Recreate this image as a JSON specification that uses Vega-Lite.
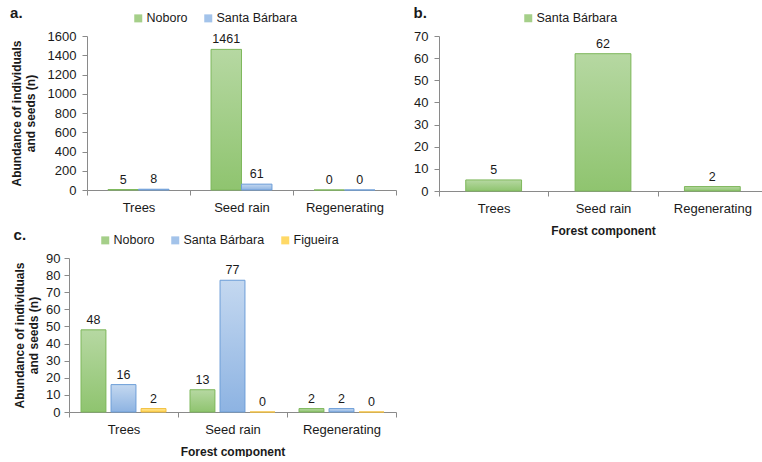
{
  "$schema": "https://vega.github.io/schema/vega-lite/v6.json",
  "padding": {"left": 10, "top": 6, "right": 0, "bottom": 0},
  "config": {
    "font": "Liberation Sans",
    "view": {"stroke": null},
    "axis": {"domainColor": "#8a8a8a", "tickColor": "#8a8a8a", "labelColor": "#1a1a1a", "labelFontSize": 13, "titleFontSize": 12, "titleFontWeight": "bold", "titleColor": "#1a1a1a", "titleLineHeight": 14, "grid": false, "tickSize": 5},
    "axisX": {"labelAngle": 0, "labelPadding": 6, "titlePadding": 10, "tickBand": "extent"},
    "axisY": {"labelPadding": 6, "titlePadding": 10, "format": "d"},
    "legend": {"orient": "none", "direction": "horizontal", "title": null, "labelFontSize": 12.5, "labelColor": "#1a1a1a", "symbolType": "square", "symbolSize": 64, "symbolStrokeWidth": 0, "columnPadding": 14, "labelOffset": 2},
    "title": {"fontSize": 15, "fontWeight": "bold", "anchor": "start", "frame": "bounds", "offset": 0, "dy": 13, "color": "#1a1a1a"},
    "text": {"fontSize": 12.5, "color": "#1a1a1a"}
  },
  "vconcat": [
    {
      "hconcat": [
        {
          "title": "a.",
          "width": 327,
          "height": 154,
          "data": {"values": [
            {"component": "Trees", "site": "Noboro", "n": 5},
            {"component": "Trees", "site": "Santa Bárbara", "n": 8},
            {"component": "Seed rain", "site": "Noboro", "n": 1461},
            {"component": "Seed rain", "site": "Santa Bárbara", "n": 61},
            {"component": "Regenerating", "site": "Noboro", "n": 0},
            {"component": "Regenerating", "site": "Santa Bárbara", "n": 0}
          ]},
          "encoding": {
            "x": {"field": "component", "type": "nominal", "sort": ["Trees", "Seed rain", "Regenerating"], "scale": {"paddingInner": 0, "paddingOuter": 0, "range": [18, 327]}, "axis": {"title": null}},
            "xOffset": {"field": "site", "type": "nominal", "sort": ["Noboro", "Santa Bárbara"], "scale": {"paddingInner": 0, "paddingOuter": 0.69}},
            "y": {"field": "n", "type": "quantitative", "scale": {"domain": [0, 1600]}, "axis": {"offset": -18, "values": [0, 200, 400, 600, 800, 1000, 1200, 1400, 1600], "title": ["Abundance of individuals", "and seeds (n)"]}}
          },
          "layer": [
            {"mark": {"type": "bar"}, "encoding": {"color": {"field": "site", "type": "nominal", "scale": {"domain": ["Noboro", "Santa Bárbara"], "range": ["#a5cf89", "#a3c3ea"]}, "legend": {"legendX": 63, "legendY": -24}}}},
            {"mark": {"type": "bar", "strokeWidth": 1}, "encoding": {
              "fill": {"condition": {"test": "datum.site === 'Noboro'", "value": {"gradient": "linear", "x1": 0, "y1": 0, "x2": 0, "y2": 1, "stops": [{"offset": 0, "color": "#b6d8a2"}, {"offset": 1, "color": "#8fc46f"}]}}, "value": {"gradient": "linear", "x1": 0, "y1": 0, "x2": 0, "y2": 1, "stops": [{"offset": 0, "color": "#c4d8f0"}, {"offset": 1, "color": "#8db3e2"}]}},
              "stroke": {"condition": {"test": "datum.site === 'Noboro'", "value": "#7fb85d"}, "value": "#6f9fd8"}
            }},
            {"mark": {"type": "text", "dy": -10}, "encoding": {"text": {"field": "n", "type": "quantitative"}}}
          ]
        },
        {
          "title": "b.",
          "width": 328,
          "height": 155,
          "data": {"values": [
            {"component": "Trees", "site": "Santa Bárbara", "n": 5},
            {"component": "Seed rain", "site": "Santa Bárbara", "n": 62},
            {"component": "Regenerating", "site": "Santa Bárbara", "n": 2}
          ]},
          "encoding": {
            "x": {"field": "component", "type": "nominal", "sort": ["Trees", "Seed rain", "Regenerating"], "scale": {"paddingInner": 0, "paddingOuter": 0}, "axis": {"title": "Forest component"}},
            "xOffset": {"field": "site", "type": "nominal", "scale": {"paddingInner": 0, "paddingOuter": 0.48}},
            "y": {"field": "n", "type": "quantitative", "scale": {"domain": [0, 70]}, "axis": {"values": [0, 10, 20, 30, 40, 50, 60, 70], "title": null}}
          },
          "layer": [
            {"mark": {"type": "bar"}, "encoding": {"color": {"field": "site", "type": "nominal", "scale": {"domain": ["Santa Bárbara"], "range": ["#a5cf89"]}, "legend": {"legendX": 83, "legendY": -24}}}},
            {"mark": {"type": "bar", "strokeWidth": 1, "stroke": "#7fb85d", "fill": {"gradient": "linear", "x1": 0, "y1": 0, "x2": 0, "y2": 1, "stops": [{"offset": 0, "color": "#b6d8a2"}, {"offset": 1, "color": "#8fc46f"}]}}},
            {"mark": {"type": "text", "dy": -10}, "encoding": {"text": {"field": "n", "type": "quantitative"}}}
          ]
        }
      ],
      "spacing": 16,
      "resolve": {"scale": {"color": "independent", "y": "independent", "x": "independent", "xOffset": "independent"}, "legend": {"color": "independent"}}
    },
    {
      "title": "c.",
      "width": 327,
      "height": 154,
      "data": {"values": [
        {"component": "Trees", "site": "Noboro", "n": 48},
        {"component": "Trees", "site": "Santa Bárbara", "n": 16},
        {"component": "Trees", "site": "Figueira", "n": 2},
        {"component": "Seed rain", "site": "Noboro", "n": 13},
        {"component": "Seed rain", "site": "Santa Bárbara", "n": 77},
        {"component": "Seed rain", "site": "Figueira", "n": 0},
        {"component": "Regenerating", "site": "Noboro", "n": 2},
        {"component": "Regenerating", "site": "Santa Bárbara", "n": 2},
        {"component": "Regenerating", "site": "Figueira", "n": 0}
      ]},
      "encoding": {
        "x": {"field": "component", "type": "nominal", "sort": ["Trees", "Seed rain", "Regenerating"], "scale": {"paddingInner": 0, "paddingOuter": 0}, "axis": {"title": "Forest component"}},
        "xOffset": {"field": "site", "type": "nominal", "sort": ["Noboro", "Santa Bárbara", "Figueira"], "scale": {"paddingInner": 0.17, "paddingOuter": 0.4}},
        "y": {"field": "n", "type": "quantitative", "scale": {"domain": [0, 90]}, "axis": {"values": [0, 10, 20, 30, 40, 50, 60, 70, 80, 90], "title": ["Abundance of individuals", "and seeds (n)"], "titlePadding": 5, "labelPadding": 4}}
      },
      "layer": [
        {"mark": {"type": "bar"}, "encoding": {"color": {"field": "site", "type": "nominal", "scale": {"domain": ["Noboro", "Santa Bárbara", "Figueira"], "range": ["#a5cf89", "#a3c3ea", "#ffd966"]}, "legend": {"legendX": 30, "legendY": -24}}}},
        {"mark": {"type": "bar", "strokeWidth": 1}, "encoding": {
          "fill": {"condition": [
            {"test": "datum.site === 'Noboro'", "value": {"gradient": "linear", "x1": 0, "y1": 0, "x2": 0, "y2": 1, "stops": [{"offset": 0, "color": "#b6d8a2"}, {"offset": 1, "color": "#8fc46f"}]}},
            {"test": "datum.site === 'Santa Bárbara'", "value": {"gradient": "linear", "x1": 0, "y1": 0, "x2": 0, "y2": 1, "stops": [{"offset": 0, "color": "#c4d8f0"}, {"offset": 1, "color": "#8db3e2"}]}}
          ], "value": {"gradient": "linear", "x1": 0, "y1": 0, "x2": 0, "y2": 1, "stops": [{"offset": 0, "color": "#ffe699"}, {"offset": 1, "color": "#ffd34d"}]}},
          "stroke": {"condition": [
            {"test": "datum.site === 'Noboro'", "value": "#7fb85d"},
            {"test": "datum.site === 'Santa Bárbara'", "value": "#6f9fd8"}
          ], "value": "#f2c040"}
        }},
        {"mark": {"type": "text", "dy": -10}, "encoding": {"text": {"field": "n", "type": "quantitative"}}}
      ]
    }
  ],
  "spacing": -8,
  "resolve": {"scale": {"color": "independent", "y": "independent", "x": "independent", "xOffset": "independent"}, "legend": {"color": "independent"}}
}
